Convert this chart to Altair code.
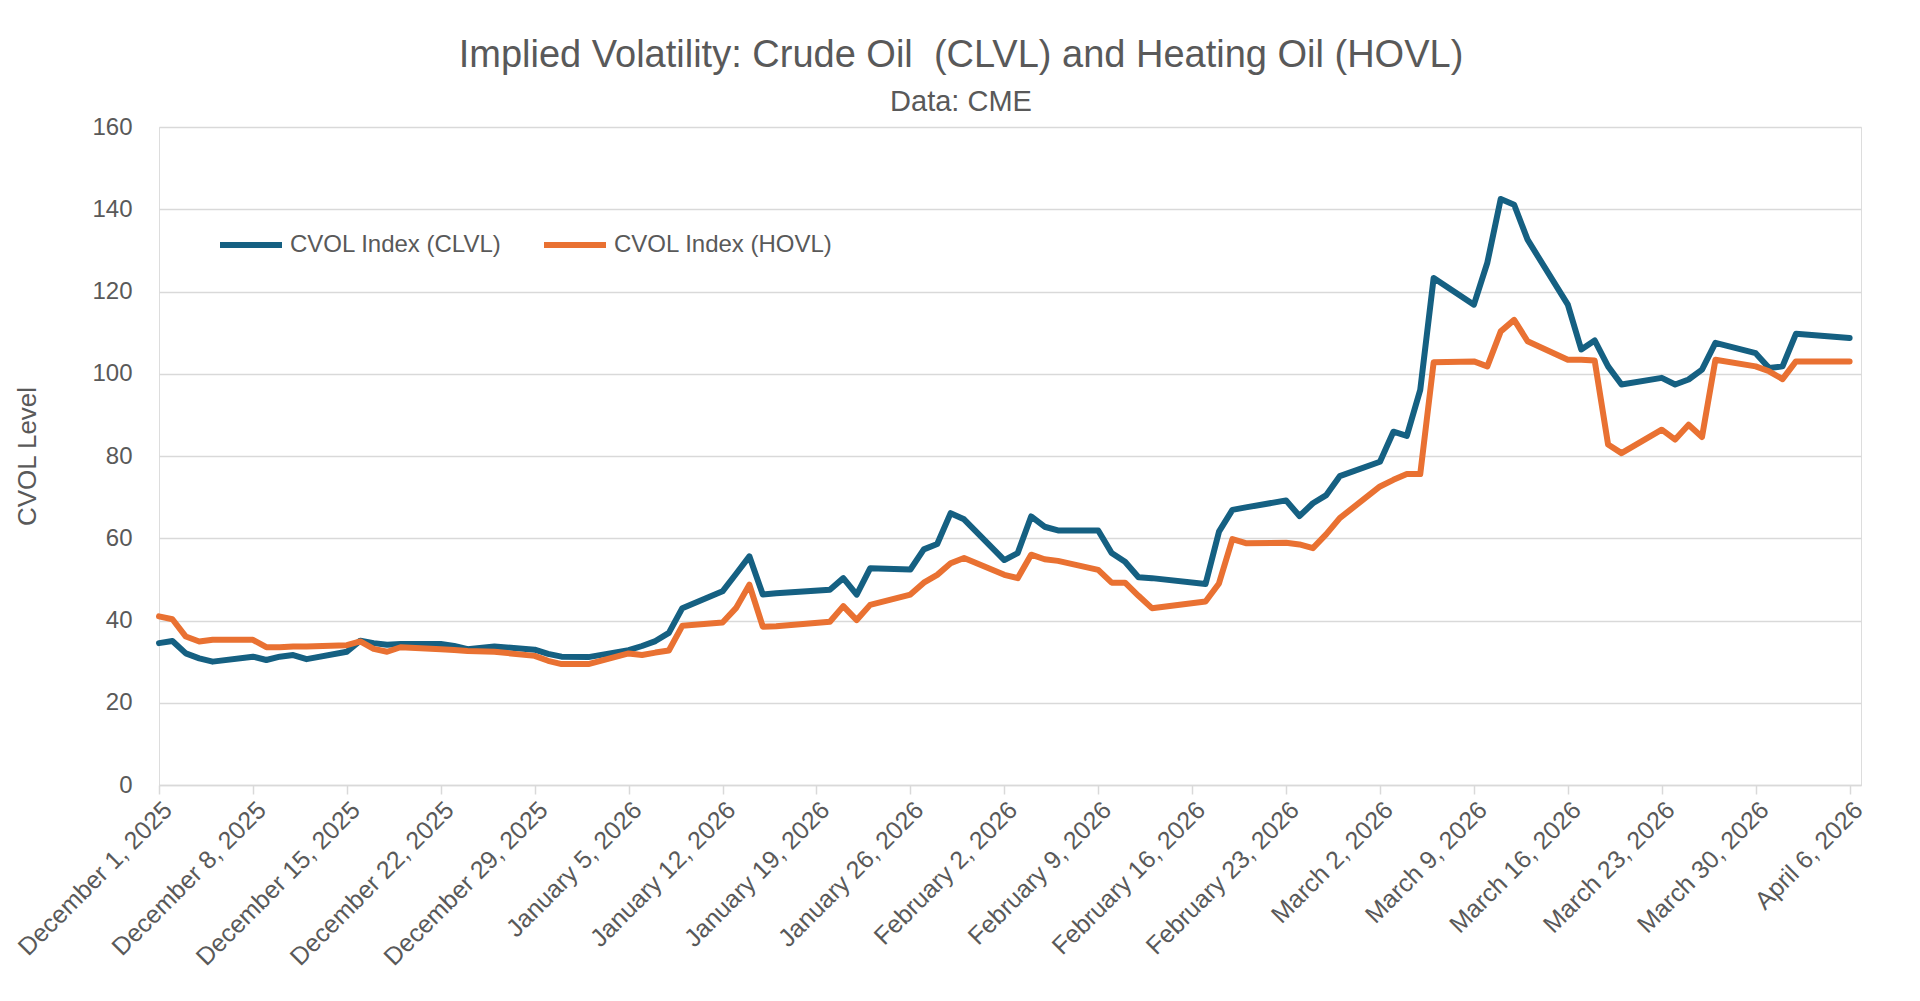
import altair as alt
import pandas as pd
from datetime import datetime, timezone, timedelta

# ---------------- data ----------------
dates = [
    "2025-12-01", "2025-12-02", "2025-12-03", "2025-12-04", "2025-12-05",
    "2025-12-08", "2025-12-09", "2025-12-10", "2025-12-11", "2025-12-12",
    "2025-12-15", "2025-12-16", "2025-12-17", "2025-12-18", "2025-12-19",
    "2025-12-22", "2025-12-23", "2025-12-24", "2025-12-26",
    "2025-12-29", "2025-12-30", "2025-12-31",
    "2026-01-02",
    "2026-01-05", "2026-01-06", "2026-01-07", "2026-01-08", "2026-01-09",
    "2026-01-12", "2026-01-13", "2026-01-14", "2026-01-15", "2026-01-16",
    "2026-01-20", "2026-01-21", "2026-01-22", "2026-01-23",
    "2026-01-26", "2026-01-27", "2026-01-28", "2026-01-29", "2026-01-30",
    "2026-02-02", "2026-02-03", "2026-02-04", "2026-02-05", "2026-02-06",
    "2026-02-09", "2026-02-10", "2026-02-11", "2026-02-12", "2026-02-13",
    "2026-02-17", "2026-02-18", "2026-02-19", "2026-02-20",
    "2026-02-23", "2026-02-24", "2026-02-25", "2026-02-26", "2026-02-27",
    "2026-03-02", "2026-03-03", "2026-03-04", "2026-03-05", "2026-03-06",
    "2026-03-09", "2026-03-10", "2026-03-11", "2026-03-12", "2026-03-13",
    "2026-03-16", "2026-03-17", "2026-03-18", "2026-03-19", "2026-03-20",
    "2026-03-23", "2026-03-24", "2026-03-25", "2026-03-26", "2026-03-27",
    "2026-03-30", "2026-03-31", "2026-04-01", "2026-04-02",
    "2026-04-06",
]

clvl = [
    34.5, 35.0, 32.0, 30.8, 30.0,
    31.2, 30.4, 31.2, 31.6, 30.6,
    32.4, 35.1, 34.5, 34.1, 34.3,
    34.3, 33.8, 33.0, 33.7,
    32.9, 31.9, 31.2,
    31.1,
    32.8, 33.8, 35.0, 37.0, 43.0,
    47.1, 51.3, 55.6, 46.3, 46.6,
    47.5, 50.3, 46.3, 52.7,
    52.4, 57.3, 58.6, 66.1, 64.6,
    54.7, 56.4, 65.3, 62.8, 61.9,
    61.9, 56.4, 54.3, 50.5, 50.3,
    48.9, 61.6, 66.9, 67.5,
    69.2, 65.4, 68.5, 70.5, 75.1,
    78.6, 85.9, 84.9, 96.1, 123.3,
    116.8, 127.0, 142.5, 141.1, 132.6,
    116.8, 105.9, 108.1, 101.8, 97.4,
    99.0, 97.4, 98.6, 101.0, 107.5,
    105.0, 101.4, 101.8, 109.7,
    108.7,
]

hovl = [
    41.0, 40.3, 36.1, 34.9, 35.3,
    35.3, 33.5, 33.5, 33.7, 33.7,
    34.0, 34.9, 33.1, 32.4, 33.5,
    33.0, 32.8, 32.6, 32.4,
    31.4, 30.2, 29.4,
    29.4,
    32.0, 31.6, 32.2, 32.7, 38.7,
    39.5, 43.0, 48.7, 38.5, 38.6,
    39.7, 43.5, 40.1, 43.8,
    46.3, 49.2, 51.1, 53.9, 55.2,
    51.1, 50.3, 56.0, 54.9, 54.5,
    52.3, 49.2, 49.2, 46.0, 43.0,
    44.6, 49.0, 59.8, 58.8,
    58.9, 58.5, 57.6, 61.0, 64.9,
    72.6, 74.2, 75.6, 75.6, 102.8,
    103.0, 101.8, 110.3, 113.1, 107.9,
    103.4, 103.4, 103.2, 82.8, 80.7,
    86.4, 84.0, 87.6, 84.6, 103.4,
    101.8, 100.6, 98.7, 103.0,
    103.0,
]

tick_dates = [
    "2025-12-01", "2025-12-08", "2025-12-15", "2025-12-22", "2025-12-29",
    "2026-01-05", "2026-01-12", "2026-01-19", "2026-01-26",
    "2026-02-02", "2026-02-09", "2026-02-16", "2026-02-23",
    "2026-03-02", "2026-03-09", "2026-03-16", "2026-03-23", "2026-03-30",
    "2026-04-06",
]
y_ticks = [0, 20, 40, 60, 80, 100, 120, 140, 160]

S1 = "CVOL Index (CLVL)"
S2 = "CVOL Index (HOVL)"
TITLE = "Implied Volatility: Crude Oil\u00a0 (CLVL) and Heating Oil (HOVL)"
SUBTITLE = "Data: CME"


def ms(s, extra_days=0.0):
    d = datetime.strptime(s, "%Y-%m-%d").replace(tzinfo=timezone.utc) + timedelta(days=extra_days)
    return int(d.timestamp() * 1000)


df = pd.DataFrame({
    "date": [ms(d) for d in dates] * 2,
    "value": clvl + hovl,
    "series": [S1] * len(dates) + [S2] * len(dates),
})

FONT = "Liberation Sans"
GRAY = "#595959"
GRID = "#D9D9D9"

W, H = 1702, 658

chart = alt.Chart(df).mark_line(
    strokeWidth=6, strokeJoin="round", strokeCap="round"
).encode(
    x=alt.X(
        "date:T",
        scale=alt.Scale(type="utc", domain=[ms(dates[0]), ms(dates[-1], 0.85)]),
        axis=alt.Axis(
            values=[ms(t) for t in tick_dates],
            labelExpr="utcFormat(datum.value, '%B %-d, %Y')",
            labelAngle=-45,
            labelAlign="right",
            labelBaseline="top",
            labelFontSize=25,
            labelColor=GRAY,
            labelFont=FONT,
            labelPadding=3,
            labelOverlap=False,
            labelFlush=False,
            labelLimit=0,
            title=None,
            grid=False,
            ticks=True,
            tickSize=9,
            tickColor=GRID,
            tickWidth=1.5,
            domain=True,
            domainColor=GRID,
            domainWidth=1.5,
        ),
    ),
    y=alt.Y(
        "value:Q",
        scale=alt.Scale(domain=[0, 160], nice=False, zero=True),
        axis=alt.Axis(
            values=y_ticks,
            title="CVOL Level",
            titleFontSize=26,
            titleFont=FONT,
            titleFontWeight="normal",
            titleColor=GRAY,
            titleX=-132,
            titleY=H / 2,
            titleAngle=270,
            titleAlign="center",
            titleBaseline="middle",
            labelFontSize=24,
            labelColor=GRAY,
            labelFont=FONT,
            labelPadding=27,
            ticks=False,
            domain=False,
            grid=True,
            gridColor=GRID,
            gridWidth=1.5,
        ),
    ),
    color=alt.Color(
        "series:N",
        scale=alt.Scale(domain=[S1, S2], range=["#156082", "#E97132"]),
        legend=alt.Legend(
            orient="none",
            legendX=58,
            legendY=84,
            direction="horizontal",
            title=None,
            symbolType="stroke",
            symbolSize=3844,
            symbolStrokeWidth=6,
            labelFontSize=24,
            labelFont=FONT,
            labelColor=GRAY,
            labelOffset=5,
            labelLimit=0,
            columnPadding=30,
        ),
    ),
).properties(
    width=W,
    height=H,
    autosize=alt.AutoSizeParams(type="none"),
    padding={"left": 151, "top": 119, "right": 51, "bottom": 208},
    title=alt.TitleParams(
        text=TITLE,
        subtitle=SUBTITLE,
        font=FONT,
        subtitleFont=FONT,
        fontSize=38,
        subtitleFontSize=29,
        fontWeight="normal",
        color=GRAY,
        subtitleColor=GRAY,
        anchor="middle",
        frame="group",
        dx=-49,
        dy=16,
        offset=14,
        subtitlePadding=13,
    ),
).configure_view(strokeWidth=0).configure(background="white")

chart.save("out.html", embed_options={"renderer": "svg", "actions": False})
